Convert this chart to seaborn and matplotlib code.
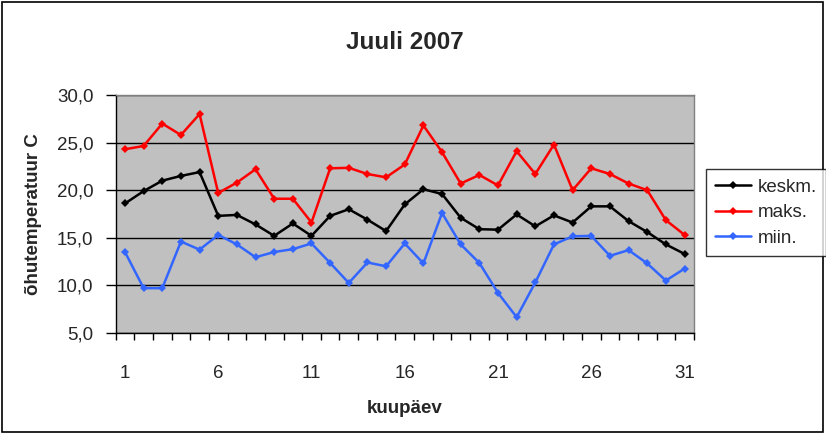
import numpy as np
import pandas as pd
import matplotlib
matplotlib.use("Agg")
import matplotlib.pyplot as plt
import seaborn as sns
from matplotlib.patches import Rectangle
from matplotlib.lines import Line2D
from matplotlib.ticker import FuncFormatter, MultipleLocator

days = list(range(1, 32))
keskm = [18.6, 19.9, 21.0, 21.5, 21.9, 17.3, 17.4, 16.4, 15.2, 16.5, 15.2, 17.3, 18.0, 16.9, 15.7, 18.5,
         20.1, 19.6, 17.1, 15.9, 15.85, 17.45, 16.2, 17.35, 16.6, 18.3, 18.3, 16.75, 15.6, 14.3, 13.3]
maks = [24.3, 24.65, 27.0, 25.8, 28.0, 19.7, 20.8, 22.2, 19.1, 19.1, 16.6, 22.3, 22.35, 21.7, 21.35, 22.7,
        26.8, 24.0, 20.7, 21.6, 20.5, 24.1, 21.7, 24.8, 20.0, 22.3, 21.7, 20.7, 20.0, 16.85, 15.3]
miin = [13.5, 9.7, 9.7, 14.6, 13.75, 15.3, 14.3, 12.95, 13.5, 13.8, 14.4, 12.35, 10.25, 12.4, 12.0, 14.4,
        12.3, 17.6, 14.3, 12.35, 9.2, 6.65, 10.3, 14.3, 15.15, 15.2, 13.1, 13.7, 12.3, 10.5, 11.75]
series = ["keskm.", "maks.", "miin."]
colors = ["#000000", "#FF0000", "#3366FF"]

df = pd.DataFrame({"kuupäev": days * 3,
                   "temp": keskm + maks + miin,
                   "seeria": [s for s in series for _ in days]})

sns.set_style("white")
plt.rcParams["font.family"] = ["Liberation Sans", "DejaVu Sans"]

fig = plt.figure(figsize=(8.26, 4.38), dpi=100)
ax = fig.add_axes([0.140, 0.240, 0.700, 0.543])
ax.set_facecolor("#C0C0C0")

sns.lineplot(data=df, x="kuupäev", y="temp", hue="seeria", style="seeria",
             palette=colors, markers=["D", "D", "D"], dashes=False,
             linewidth=1.8, markersize=4, markeredgewidth=0, legend=False, ax=ax)

ax.set_xlim(0.5, 31.5)
ax.set_ylim(5, 30)
ax.set_yticks(np.arange(5, 31, 5))
ax.yaxis.set_major_formatter(FuncFormatter(lambda v, p: f"{v:.1f}".replace(".", ",")))
ax.set_xticks([1, 6, 11, 16, 21, 26, 31])
ax.xaxis.set_minor_locator(MultipleLocator(1, offset=0.5))
ax.tick_params(axis="both", which="both", bottom=True, left=True)
ax.tick_params(axis="x", which="major", length=0, pad=23, labelsize=13.5)
ax.tick_params(axis="x", which="minor", length=5, width=1, direction="out", color="black")
ax.tick_params(axis="y", which="major", length=7, width=1, direction="out", color="black",
               pad=9, labelsize=13.5)
ax.grid(axis="y", color="black", linewidth=1)
ax.grid(axis="x", visible=False)
ax.set_axisbelow(True)
for sp in ax.spines.values():
    sp.set_color("black")
    sp.set_linewidth(1)
ax.spines["top"].set_color("#808080")
ax.spines["right"].set_color("#808080")

ax.set_title("Juuli 2007", fontsize=17.5, fontweight="bold", pad=33)
ax.set_xlabel("kuupäev", fontsize=13.5, fontweight="bold", labelpad=13)
ax.set_ylabel("õhutemperatuur C", fontsize=13.5, fontweight="bold", labelpad=11)

# legend box sits right of the plot, like the Excel original
handles = [Line2D([], [], color=c, marker="D", markersize=4, markeredgewidth=0, linewidth=1.8)
           for c in colors]
leg = fig.legend(handles, series, loc="upper left", bbox_to_anchor=(706 / 826, 1 - 169 / 438),
                 frameon=True, fancybox=False, edgecolor="black", fontsize=13.5,
                 handlelength=1.9, handletextpad=0.35, borderpad=0.5, labelspacing=0.45,
                 borderaxespad=0)
leg.get_frame().set_linewidth(1)

fig.patches.append(Rectangle((2 / 826, 6 / 438), 821 / 826, 430 / 438, transform=fig.transFigure,
                             fill=False, edgecolor="black", linewidth=1.2))

fig.savefig("out.png", dpi=100)
